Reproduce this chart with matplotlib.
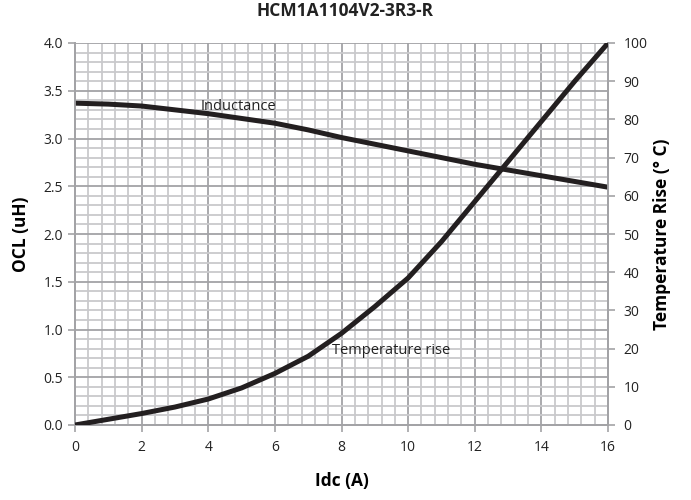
import numpy as np
import matplotlib
matplotlib.use('Agg')
import matplotlib.pyplot as plt
from matplotlib.ticker import MultipleLocator

plt.rcParams['font.family'] = ['Open Sans', 'DejaVu Sans']

# 数据
idc = [0, 1, 2, 3, 4, 5, 6, 7, 8, 9, 10, 11, 12, 13, 14, 15, 16]
ocl = [3.37, 3.36, 3.34, 3.30, 3.26, 3.21, 3.16, 3.09, 3.01, 2.94, 2.87, 2.80, 2.73, 2.67, 2.61, 2.55, 2.49]
temp_rise = [0, 1.5, 3, 4.7, 6.8, 9.7, 13.5, 18, 24, 31, 38.5, 48, 58.5, 69, 79.5, 90, 100]

title = 'HCM1A1104V2-3R3-R'
line_color = '#231f20'

fig = plt.figure(figsize=(6.91, 5.0), dpi=100)
ax = fig.add_axes([0.1085, 0.15, 0.7715, 0.764])
ax2 = ax.twinx()

# 网格
ax.set_xlim(0, 16)
ax.set_ylim(0, 4.0)
ax.xaxis.set_major_locator(MultipleLocator(2))
ax.xaxis.set_minor_locator(MultipleLocator(0.4))
ax.yaxis.set_major_locator(MultipleLocator(0.5))
ax.yaxis.set_minor_locator(MultipleLocator(0.1))
ax.grid(which='minor', color='#c9c9cc', linewidth=1.3)
ax.grid(which='major', color='#a3a3a6', linewidth=1.3)
ax.set_axisbelow(True)

ax2.set_ylim(0, 100)
ax2.yaxis.set_major_locator(MultipleLocator(10))

ax.plot(idc, ocl, color=line_color, linewidth=3.6, solid_capstyle='butt',
        solid_joinstyle='round', zorder=5)
ax2.plot(idc, temp_rise, color=line_color, linewidth=3.6, solid_capstyle='butt',
         solid_joinstyle='round', zorder=5)

ax.text(4.9, 3.33, 'Inductance', fontsize=10.5, color='#222222', ha='center', va='center', zorder=6)
ax2.text(9.5, 19.4, 'Temperature rise', fontsize=10.5, color='#222222', ha='center', va='center', zorder=6)

for a in (ax, ax2):
    for s in a.spines.values():
        s.set_color('#a3a3a6')
        s.set_linewidth(1.3)
    a.spines['top'].set_visible(False)
ax.tick_params(which='major', color='#a3a3a6', length=5, width=1.2, labelsize=10, labelcolor='#222222')
ax.tick_params(which='minor', length=0)
ax.tick_params(axis='x', pad=6)
ax2.tick_params(which='major', color='#a3a3a6', length=5, width=1.2, labelsize=10, labelcolor='#222222', pad=6)
ax.yaxis.set_major_formatter(matplotlib.ticker.FormatStrFormatter('%.1f'))

ax.set_xlabel('Idc (A)', fontsize=12.5, fontweight='bold', labelpad=12)
ax.set_ylabel('OCL (uH)', fontsize=12.5, fontweight='bold', labelpad=10)
ax2.set_ylabel('Temperature Rise (° C)', fontsize=12.5, fontweight='bold', labelpad=4)
fig.suptitle(title, fontsize=12.5, fontweight='bold', x=0.5, y=0.995, va='top', color='#222222')

plt.savefig('out.png', dpi=100)
